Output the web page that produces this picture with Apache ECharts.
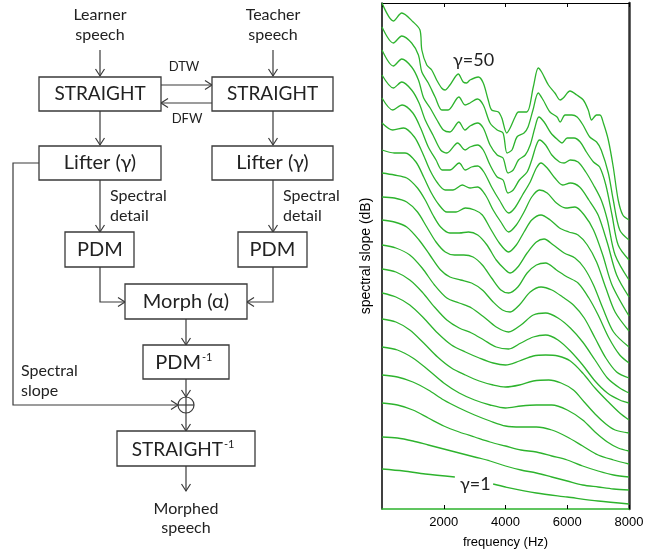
<!DOCTYPE html>
<html>
<head>
<meta charset="utf-8">
<script src="https://cdn.jsdelivr.net/npm/echarts@6/dist/echarts.min.js"></script>
<style>
html, body { margin: 0; padding: 0; background: #fff; }
#chart { width: 666px; height: 552px; }
</style>
</head>
<body>
<div id="chart"></div>
<script>
// each curve: [frequency (Hz), level below top of frame], top one is gamma=50, bottom one gamma=1
var c0 = [[0,0],[370,18],[640,10],[1010,19],[1230,27],[1290,47],[1450,62],[1610,67],[1770,77],[1930,85],[2040,87],[2200,82],[2470,71],[2630,79],[2740,80],[2850,77],[3120,74],[3280,80],[3440,97],[3550,107],[3770,109],[3880,115],[4040,130],[4150,125],[4310,114],[4420,109],[4690,109],[4900,84],[5060,65],[5170,69],[5390,82],[5600,90],[5770,97],[5870,95],[6090,88],[6310,92],[6520,97],[6680,107],[6790,117],[6950,112],[7060,112],[7170,120],[7330,137],[7490,164],[7650,197],[7800,212],[8000,217]]
var c1 = [[0,24],[370,40],[640,33],[960,40],[1180,52],[1290,69],[1500,80],[1720,94],[1940,107],[2140,107],[2490,94],[2690,102],[2850,100],[3090,96],[3280,102],[3500,120],[3730,127],[3920,130],[4050,150],[4210,147],[4370,134],[4600,130],[4730,124],[4890,107],[5060,90],[5220,97],[5440,109],[5670,114],[5770,119],[5930,112],[6150,112],[6320,114],[6510,122],[6730,134],[6950,139],[7100,147],[7330,170],[7490,197],[7700,227],[8000,237]]
var c2 = [[0,47],[370,63],[640,56],[960,64],[1180,77],[1350,95],[1560,105],[1780,117],[1990,127],[2200,129],[2490,119],[2690,127],[2850,123],[3090,120],[3280,125],[3500,142],[3730,152],[3920,155],[4080,170],[4250,167],[4420,157],[4640,152],[4800,142],[4950,125],[5080,114],[5250,119],[5470,130],[5700,137],[5830,140],[6000,135],[6220,135],[6420,139],[6620,149],[6850,159],[7050,164],[7250,182],[7450,212],[7650,242],[8000,257]]
var c3 = [[0,72],[370,85],[640,79],[960,87],[1200,100],[1400,117],[1650,132],[1900,147],[2100,150],[2450,140],[2690,147],[2850,144],[3090,142],[3280,147],[3500,162],[3730,174],[3920,177],[4080,190],[4250,187],[4450,177],[4700,169],[4850,157],[5000,142],[5100,137],[5300,142],[5500,152],[5750,159],[5900,160],[6100,157],[6350,159],[6600,169],[6850,182],[7100,197],[7300,217],[7550,252],[8000,277]]
var c4 = [[0,95],[350,107],[650,102],[1000,110],[1250,125],[1500,144],[1750,157],[1950,167],[2200,167],[2500,160],[2700,167],[2900,164],[3100,163],[3300,169],[3550,184],[3800,197],[4100,210],[4300,205],[4550,192],[4800,179],[5000,165],[5150,160],[5350,165],[5600,175],[5850,182],[6100,180],[6400,184],[6700,197],[7000,212],[7300,240],[7600,272],[8000,294]]
var c5 = [[0,120],[350,127],[700,125],[1050,134],[1300,149],[1550,167],[1800,180],[2050,187],[2300,187],[2600,182],[2850,185],[3100,184],[3350,192],[3600,207],[3850,219],[4100,229],[4350,222],[4600,209],[4850,194],[5100,187],[5350,190],[5650,200],[5950,205],[6250,204],[6550,212],[6850,227],[7150,252],[7450,282],[8000,313]]
var c6 = [[0,147],[400,150],[750,150],[1100,159],[1350,174],[1600,190],[1850,202],[2100,209],[2400,209],[2700,205],[3000,207],[3250,212],[3500,225],[3800,240],[4100,249],[4350,242],[4600,229],[4850,217],[5150,212],[5450,217],[5750,225],[6050,229],[6350,232],[6650,242],[6950,259],[7250,285],[7550,309],[8000,328]]
var c7 = [[0,170],[400,172],[800,175],[1150,185],[1400,197],[1650,212],[1900,224],[2200,230],[2500,230],[2800,229],[3100,232],[3400,242],[3700,257],[4000,267],[4150,270],[4400,264],[4700,250],[5000,239],[5250,236],[5550,242],[5900,250],[6250,255],[6550,265],[6850,282],[7150,305],[7500,329],[8000,344]]
var c8 = [[0,194],[400,195],[800,199],[1150,209],[1450,224],[1750,239],[2050,249],[2350,252],[2650,252],[2950,254],[3250,262],[3550,275],[3850,287],[4100,290],[4400,284],[4700,270],[5000,262],[5300,260],[5650,267],[6000,274],[6350,280],[6700,295],[7000,312],[7350,335],[7700,352],[8000,360]]
var c9 = [[0,217],[400,219],[800,224],[1200,237],[1550,252],[1900,267],[2200,274],[2550,277],[2900,280],[3250,287],[3600,299],[3900,307],[4150,309],[4450,302],[4800,289],[5150,284],[5500,287],[5850,294],[6200,302],[6550,315],[6900,335],[7250,355],[7600,369],[8000,375]]
var c10 = [[0,242],[450,245],[900,252],[1300,265],[1700,282],[2100,295],[2500,300],[2900,305],[3300,314],[3700,324],[4100,329],[4500,322],[4900,312],[5300,310],[5700,315],[6100,325],[6500,339],[6900,357],[7300,375],[7700,385],[8000,390]]
var c11 = [[0,266],[450,269],[900,277],[1300,289],[1700,304],[2100,317],[2500,325],[2900,330],[3300,337],[3700,344],[4100,346],[4500,340],[4900,334],[5300,332],[5700,337],[6100,348],[6500,362],[6900,378],[7300,390],[7700,397],[8000,400]]
var c12 = [[0,290],[450,294],[900,302],[1350,315],[1800,330],[2250,342],[2700,349],[3150,355],[3600,360],[4000,362],[4450,358],[4900,353],[5300,352],[5700,353],[6100,358],[6500,370],[6900,385],[7300,398],[7700,410],[8000,417]]
var c13 = [[0,316],[450,319],[900,327],[1350,340],[1800,354],[2250,365],[2700,372],[3150,378],[3600,382],[4000,384],[4450,382],[4900,378],[5400,377],[5800,380],[6200,387],[6550,399],[6900,411],[7250,421],[7550,427],[8000,430]]
var c14 = [[0,344],[500,347],[1000,355],[1500,367],[2000,380],[2500,390],[3000,397],[3500,402],[4000,405],[4500,403],[5000,402],[5500,402],[6000,407],[6500,417],[6900,429],[7300,439],[7650,445],[8000,448]]
var c15 = [[0,372],[500,374],[1000,379],[1500,387],[2000,397],[2500,405],[3000,412],[3500,418],[4000,423],[4500,424],[5000,424],[5500,427],[6000,434],[6500,443],[7000,452],[7500,457],[8000,461]]
var c16 = [[0,400],[500,402],[1000,407],[1500,415],[2000,423],[2500,429],[3000,434],[3500,439],[4000,443],[4500,447],[5000,449],[5500,453],[6000,457],[6500,463],[7000,468],[7500,472],[8000,474]]
var c17 = [[0,434],[500,435],[1000,438],[1500,442],[2000,446],[2500,450],[3000,454],[3500,458],[4000,463],[4500,467],[5000,470],[5500,474],[6000,478],[6500,482],[7000,484],[7500,486],[8000,487]]
var c18 = [[0,466],[700,468],[1400,471],[2360,474],[2900,'-'],[3600,481],[4000,484],[5000,490],[6000,494],[7000,498],[8000,501]]
var curves = [c0, c1, c2, c3, c4, c5, c6, c7, c8, c9, c10, c11, c12, c13, c14, c15, c16, c17, c18]
var freqTicks = [0, 2000, 4000, 6000, 8000]

var ink = '#222'
var edge = '#3a3a3a'
var green = '#2db32d'
var elements = []

function txt(x, y, s, size, align) {
  elements.push({
    type: 'text', x: x, y: y, silent: true,
    style: {
      text: s, font: size + 'px Lato', fill: ink,
      align: align || 'center', textAlign: align || 'center',
      verticalAlign: 'middle', textVerticalAlign: 'middle'
    }
  })
}

function box(x, y, w, h) {
  elements.push({
    type: 'rect', silent: true,
    shape: { x: x, y: y, width: w, height: h },
    style: { fill: '#fff', stroke: edge, lineWidth: 1.3 }
  })
}

function arrow(pts) {
  elements.push({
    type: 'polyline', silent: true,
    shape: { points: pts },
    style: { stroke: edge, lineWidth: 1.2, fill: null }
  })
  var e = pts[pts.length - 1], p = pts[pts.length - 2]
  var dx = e[0] - p[0], dy = e[1] - p[1]
  var len = Math.sqrt(dx * dx + dy * dy)
  dx /= len; dy /= len
  var L = 7, W = 4.5
  elements.push({
    type: 'polyline', silent: true,
    shape: { points: [
      [e[0] - L * dx - W * dy, e[1] - L * dy + W * dx],
      e,
      [e[0] - L * dx + W * dy, e[1] - L * dy - W * dx]
    ] },
    style: { stroke: edge, lineWidth: 1.2, fill: null }
  })
}

// block diagram
arrow([[100, 50], [100, 76]])
arrow([[273, 50], [273, 76]])
arrow([[161, 85], [212, 85]])
arrow([[212, 103], [161, 103]])
arrow([[100, 111], [100, 145]])
arrow([[273, 111], [273, 145]])
arrow([[100, 180], [100, 232]])
arrow([[273, 180], [273, 232]])
arrow([[100, 267], [100, 302], [125, 302]])
arrow([[273, 267], [273, 302], [247, 302]])
arrow([[186, 319], [186, 345]])
arrow([[186, 379], [186, 397]])
arrow([[186, 413], [186, 431]])
arrow([[186, 466], [186, 491]])
arrow([[39, 163], [13, 163], [13, 405], [178, 405]])

box(39, 77, 122, 34)
box(212, 77, 121, 34)
box(39, 146, 122, 34)
box(212, 146, 121, 34)
box(65, 232, 69, 35)
box(238, 232, 69, 35)
box(125, 284, 122, 35)
box(143, 345, 86, 34)
box(117, 431, 138, 35)

elements.push({
  type: 'circle', silent: true,
  shape: { cx: 186, cy: 405, r: 8 },
  style: { fill: '#fff', stroke: edge, lineWidth: 1.2 }
})
elements.push({
  type: 'polyline', silent: true, shape: { points: [[186, 397], [186, 413]] },
  style: { stroke: edge, lineWidth: 1.2, fill: null }
})
elements.push({
  type: 'polyline', silent: true, shape: { points: [[178, 405], [194, 405]] },
  style: { stroke: edge, lineWidth: 1.2, fill: null }
})

txt(100, 15, 'Learner', 16)
txt(100, 35, 'speech', 16)
txt(273, 15, 'Teacher', 16)
txt(273, 35, 'speech', 16)
txt(184, 67, 'DTW', 13)
txt(187, 119, 'DFW', 13)
txt(100, 94, 'STRAIGHT', 19)
txt(272.5, 94, 'STRAIGHT', 19)
txt(100, 163, 'Lifter (\u03b3)', 20)
txt(272.5, 163, 'Lifter (\u03b3)', 20)
txt(110, 196, 'Spectral', 16, 'left')
txt(110, 216, 'detail', 16, 'left')
txt(283, 196, 'Spectral', 16, 'left')
txt(283, 216, 'detail', 16, 'left')
txt(100, 250, 'PDM', 20)
txt(272.5, 250, 'PDM', 20)
txt(186, 302, 'Morph (\u03b1)', 20)
txt(201, 363, 'PDM', 20, 'right')
txt(202, 357, '-1', 11, 'left')
txt(223, 450, 'STRAIGHT', 19, 'right')
txt(224, 444, '-1', 11, 'left')
txt(21, 371, 'Spectral', 16, 'left')
txt(21, 391, 'slope', 16, 'left')
txt(186, 509, 'Morphed', 16)
txt(186, 528, 'speech', 16)

// curve labels
txt(453, 60, '\u03b3=50', 18, 'left')
txt(460, 484, '\u03b3=1', 18, 'left')

var series = []
for (var i = 0; i < curves.length; i++) {
  series.push({
    type: 'line',
    data: curves[i],
    showSymbol: false,
    smooth: 0.3,
    silent: true,
    lineStyle: { color: green, width: 1.3 }
  })
}

var myChart = echarts.init(document.getElementById('chart'))
var option = {
  animation: false,
  grid: { left: 382, top: 3, width: 247, height: 506, containLabel: false, outerBoundsMode: 'none' },
  xAxis: [
    {
      type: 'value', position: 'bottom',
      min: freqTicks[0], max: freqTicks[freqTicks.length - 1], interval: 2000,
      axisLine: { onZero: false, lineStyle: { color: green, width: 1.5 } },
      axisTick: { inside: true, length: 4, lineStyle: { color: '#000' } },
      axisLabel: {
        showMinLabel: false, color: '#000', fontSize: 13, fontFamily: 'Liberation Sans', margin: 7,
        formatter: function (v) { return String(v) }
      },
      splitLine: { show: false },
      name: 'frequency (Hz)', nameLocation: 'middle', nameGap: 27,
      nameTextStyle: { color: '#000', fontSize: 13, fontFamily: 'Liberation Sans' }
    },
    {
      type: 'value', position: 'top',
      min: freqTicks[0], max: freqTicks[freqTicks.length - 1], interval: 2000,
      axisLine: { onZero: false, lineStyle: { color: '#000', width: 1 } },
      axisTick: { inside: true, length: 4, lineStyle: { color: '#000' } },
      axisLabel: { show: false },
      splitLine: { show: false }
    }
  ],
  yAxis: [
    {
      type: 'value', inverse: true, min: 0, max: 506, position: 'left',
      axisLine: { show: true, onZero: false, lineStyle: { color: '#000', width: 1.5 } },
      axisTick: { show: false }, axisLabel: { show: false }, splitLine: { show: false },
      name: 'spectral slope (dB)', nameLocation: 'middle', nameGap: 9,
      nameTextStyle: { color: '#000', fontSize: 14, fontFamily: 'Liberation Sans' }
    },
    {
      type: 'value', inverse: true, min: 0, max: 506, position: 'right',
      axisLine: { show: true, onZero: false, lineStyle: { color: '#333', width: 2.5 } },
      axisTick: { show: false }, axisLabel: { show: false }, splitLine: { show: false }
    }
  ],
  graphic: elements,
  series: series
}
myChart.setOption(option)
</script>
</body>
</html>
